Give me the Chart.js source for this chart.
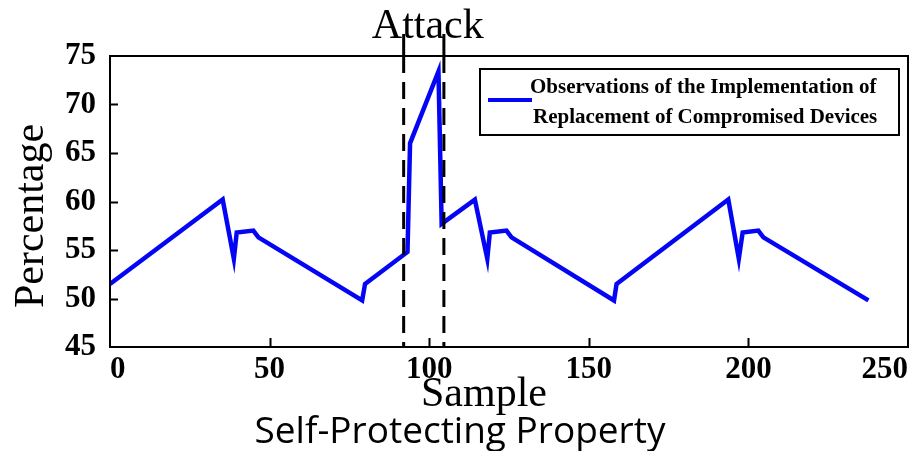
<!DOCTYPE html>
<html>
<head>
<meta charset="utf-8">
<script src="https://cdn.jsdelivr.net/npm/chart.js@4.4.1/dist/chart.umd.min.js"></script>
<style>
body{margin:0;background:#fff;}
#wrap{width:920px;height:451px;}
</style>
</head>
<body>
<div id="wrap"><canvas id="line-canvas" width="920" height="451"></canvas></div>
<script>
// values
var sampleIndex = [0, 35.3, 38.8, 39.7, 44.9, 46.5, 79.0, 79.9, 93.2, 94.0, 102.9, 103.9,
  114.3, 118.2, 119.0, 124.2, 125.8, 157.9, 158.7, 193.7, 197.0, 198.2, 203.1, 204.7, 237.6];
var percentValues = [51.5, 60.2, 54.1, 56.8, 57.0, 56.3, 49.8, 51.5, 54.8, 66.0, 73.4, 57.7,
  60.2, 54.1, 56.8, 57.0, 56.3, 49.8, 51.5, 60.2, 54.1, 56.8, 57.0, 56.3, 49.8];
var attackBounds = [92.0, 104.6];
var xTicks = [0, 50, 100, 150, 200, 250];
var yTicks = [45, 50, 55, 60, 65, 70, 75];
var legendLines = ["Observations of the Implementation of", "Replacement of Compromised Devices"];

var points = [];
for (var k = 0; k < sampleIndex.length; k++) {
  points.push({x: sampleIndex[k], y: percentValues[k]});
}

var serif = "'Liberation Serif', 'Times New Roman', serif";

var extras = {
  id: "extras",
  afterDraw: function(chart) {
    var c = chart.ctx, a = chart.chartArea;
    var xs = chart.scales.x, ys = chart.scales.y;
    c.save();
    c.strokeStyle = "#000";
    c.lineWidth = 2;
    c.strokeRect(a.left, a.top, a.right - a.left, a.bottom - a.top);

    // inward tick marks
    c.beginPath();
    xTicks.slice(1, -1).forEach(function(t){
      var px = Math.round(xs.getPixelForValue(t)) + 0.5;
      c.moveTo(px, a.bottom); c.lineTo(px, a.bottom - 9);
    });
    yTicks.slice(1, -1).forEach(function(t){
      var py = Math.round(ys.getPixelForValue(t)) + 0.5;
      c.moveTo(a.left, py); c.lineTo(a.left + 8, py);
    });
    c.stroke();

    // attack window
    c.lineWidth = 3;
    attackBounds.forEach(function(v){
      var px = xs.getPixelForValue(v);
      c.setLineDash([]);
      c.beginPath(); c.moveTo(px, 34); c.lineTo(px, a.top); c.stroke();
      c.setLineDash([17, 9]);
      c.beginPath(); c.moveTo(px, a.top); c.lineTo(px, a.bottom); c.stroke();
    });
    c.setLineDash([]);

    c.fillStyle = "#000";
    c.textAlign = "center";
    c.textBaseline = "alphabetic";
    c.font = "42px " + serif;
    var mid = xs.getPixelForValue((attackBounds[0] + attackBounds[1]) / 2) + 4;
    c.fillText("Attack", mid, 38);
    c.fillText("Sample", 484, 406);

    c.save();
    c.translate(43, 216);
    c.rotate(-Math.PI / 2);
    c.fillText("Percentage", 0, 0);
    c.restore();

    c.font = "37px 'Open Sans', sans-serif";
    c.fillText("Self-Protecting Property", 460, 443);

    // legend
    c.lineWidth = 2;
    c.strokeRect(480, 69, 419, 66);
    c.strokeStyle = chart.data.datasets[0].borderColor;
    c.lineWidth = 4;
    c.beginPath(); c.moveTo(488, 100); c.lineTo(532, 100); c.stroke();
    c.textAlign = "left";
    c.textBaseline = "middle";
    c.font = "bold 21px " + serif;
    c.fillText(legendLines[0], 530, 88);
    c.fillText(legendLines[1], 533, 118);
    c.restore();
  }
};

var ctx = document.getElementById("line-canvas");
var chart = new Chart(ctx, {
  type: "line",
  data: {
    datasets: [{
      label: legendLines.join(" "),
      data: points,
      borderColor: "#0505f5",
      borderWidth: 4.5,
      pointRadius: 0,
      fill: false,
      tension: 0
    }]
  },
  options: {
    responsive: false,
    animation: false,
    layout: {padding: {top: 56, right: 12, left: 0, bottom: 0}},
    plugins: {legend: {display: false}, title: {display: false}, tooltip: {enabled: false}},
    scales: {
      x: {
        type: "linear",
        min: 0, max: 250,
        afterBuildTicks: function(s){ s.ticks = xTicks.map(function(v){ return {value: v}; }); },
        afterFit: function(s){ s.height = 104; s.paddingLeft = 0; s.paddingRight = 0; },
        grid: {display: false, drawTicks: false},
        border: {display: false},
        ticks: {align: "inner", padding: 4, color: "#000", font: {family: serif, size: 31, weight: "bold"}}
      },
      y: {
        min: 45, max: 75,
        afterBuildTicks: function(s){ s.ticks = yTicks.map(function(v){ return {value: v}; }); },
        afterFit: function(s){ s.width = 110; s.paddingTop = 0; s.paddingBottom = 0; },
        grid: {display: false, drawTicks: false},
        border: {display: false},
        ticks: {padding: 14, color: "#000", font: {family: serif, size: 31, weight: "bold"}}
      }
    }
  },
  plugins: [extras]
});
</script>
</body>
</html>
